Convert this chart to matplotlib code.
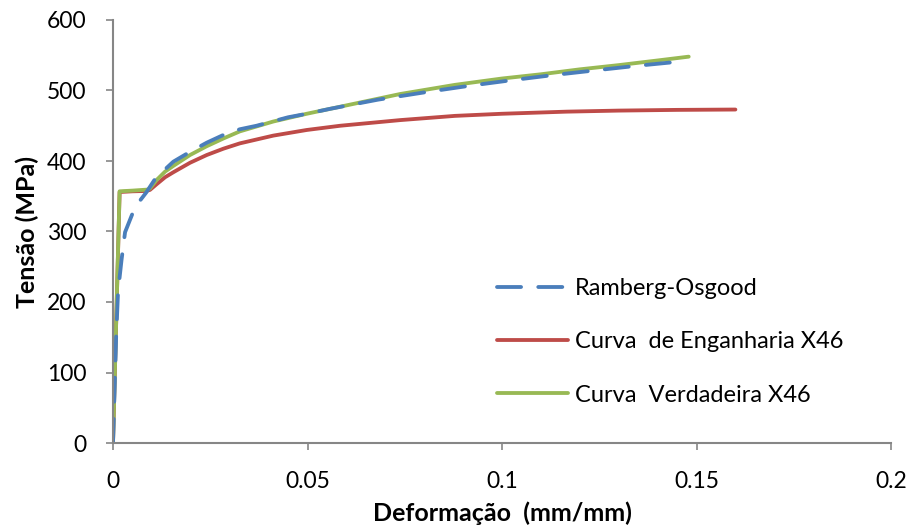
import matplotlib
matplotlib.use("Agg")
import matplotlib.pyplot as plt

plt.rcParams['font.family'] = ['Lato', 'DejaVu Sans']

# Ramberg-Osgood
ro_x = [0, 0.0008, 0.0013, 0.0022, 0.0031, 0.0057, 0.0085, 0.011, 0.0155, 0.0198, 0.0241,
        0.0284, 0.0326, 0.0369, 0.045, 0.0498, 0.0558, 0.0681, 0.0808, 0.0915, 0.1022,
        0.1129, 0.1237, 0.1346, 0.1475]
ro_y = [0, 150, 215, 260, 299, 335, 355, 376, 399, 413, 426,
        437, 445, 450, 462, 467, 474, 487, 498, 506.6, 514.4,
        521.7, 528.4, 535, 542]

# Curva de Engenharia
eng_x = [0, 0.0017, 0.005, 0.0085, 0.0095, 0.0112, 0.0134, 0.0155, 0.0198, 0.0241,
         0.0284, 0.0326, 0.0412, 0.0498, 0.0584, 0.0738, 0.0879, 0.10, 0.1166, 0.13,
         0.145, 0.16]
eng_y = [0, 356, 357, 357.5, 359, 367, 377, 384, 397.5, 408.5,
         417.5, 425, 436, 444, 450, 458, 464, 467, 470, 471.5,
         472.5, 473]

# Curva Verdadeira
true_x = [0, 0.0017, 0.005, 0.009, 0.0095, 0.0112, 0.0134, 0.0155, 0.0198, 0.0241,
          0.0284, 0.0326, 0.0412, 0.0498, 0.0584, 0.0738, 0.0879, 0.10, 0.11, 0.12,
          0.13, 0.1406, 0.148]
true_y = [0, 357, 358, 359.5, 361, 373, 385, 393, 408.5, 421,
          432, 442, 456, 467, 477, 495, 508, 517, 523, 530,
          536, 543, 548]

labels = ["Ramberg-Osgood", "Curva  de Enganharia X46", "Curva  Verdadeira X46"]
x_ticks = [0, 0.05, 0.1, 0.15, 0.2]
x_tick_labels = ["0", "0.05", "0.1", "0.15", "0.2"]
y_ticks = [0, 100, 200, 300, 400, 500, 600]

fig = plt.figure(figsize=(9.08, 5.31), dpi=100)
ax = fig.add_axes([113/908, 1-443/531, (891-113)/908, (443-20)/531])

lw = 2.75
ax.plot(eng_x, eng_y, color='#BE4B48', lw=lw, label=labels[1],
        solid_capstyle='round', solid_joinstyle='round')
ax.plot(true_x, true_y, color='#98B954', lw=lw, label=labels[2],
        solid_capstyle='round', solid_joinstyle='round')
ax.plot(ro_x, ro_y, color='#4A7EBB', lw=lw, dashes=(6.3, 4.5), label=labels[0],
        dash_capstyle='round', dash_joinstyle='round')

ax.set_xlim(0, 0.2)
ax.set_ylim(0, 600)
ax.set_xticks(x_ticks)
ax.set_xticklabels(x_tick_labels)
ax.set_yticks(y_ticks)

for s in ['top', 'right']:
    ax.spines[s].set_visible(False)
for s in ['left', 'bottom']:
    ax.spines[s].set_color('#868686')
    ax.spines[s].set_linewidth(1.5)
ax.tick_params(axis='both', colors='#868686', length=5, width=1.2, labelsize=16.5,
               labelcolor='black', direction='out')
ax.tick_params(axis='x', pad=15)
ax.tick_params(axis='y', pad=14)

ax.set_xlabel("Deformação  (mm/mm)", fontsize=18, fontweight='bold', labelpad=7)
ax.set_ylabel("Tensão (MPa)", fontsize=18, fontweight='bold', labelpad=6)

h, l = ax.get_legend_handles_labels()
order = [2, 0, 1]
leg = ax.legend([h[i] for i in order], [l[i] for i in order], loc='center left',
                bbox_to_anchor=(0.4814, 0.239), frameon=False, fontsize=17,
                handlelength=3.0, labelspacing=1.37, handletextpad=0.3,
                borderaxespad=0)

fig.savefig("out.png", dpi=100)
